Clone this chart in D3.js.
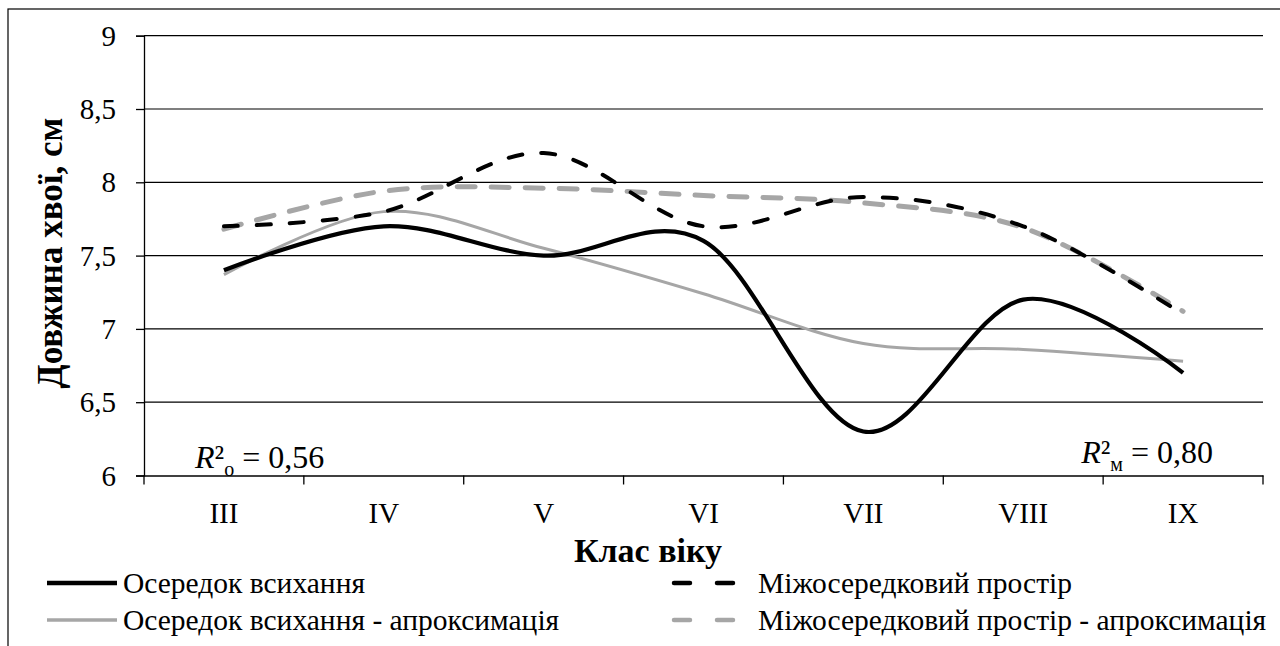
<!DOCTYPE html>
<html><head><meta charset="utf-8">
<script src="https://cdn.jsdelivr.net/npm/d3@7"></script>
<style>
html,body{margin:0;padding:0;background:#fff;}
svg{display:block;}
</style></head>
<body><svg id="c" width="1280" height="646"></svg>
<script>
const categories = ["III","IV","V","VI","VII","VIII","IX"];
const seriesFocus = [7.4, 7.7, 7.5, 7.6, 6.3, 7.2, 6.7];
const seriesInter = [7.7, 7.8, 8.2, 7.7, 7.9, 7.7, 7.1];
const seriesFocusApprox = [7.37, 7.8, 7.55, 7.24, 6.9, 6.86, 6.78];
const seriesInterApprox = [7.68, 7.94, 7.96, 7.91, 7.86, 7.69, 7.12];
const yTicks = [6, 6.5, 7, 7.5, 8, 8.5, 9];
const legendNames = ["Осередок всихання","Міжосередковий простір","Осередок всихання - апроксимація","Міжосередковий простір - апроксимація"];
const yTitle = "Довжина хвої, см";
const xTitle = "Клас віку";

const FONT = "Liberation Serif";
const svg = d3.select("#c");
const L = 144, R = 1263, T = 35.7, B = 475.5;
const x = d3.scaleBand().domain(categories).range([L, R]).padding(0);
const cx = c => x(c) + x.bandwidth()/2;
const y = d3.scaleLinear().domain([6, 9]).range([B, T]);

// frame
svg.append("rect").attr("x",8).attr("y",9).attr("width",1290).attr("height",660)
  .attr("fill","none").attr("stroke","#000").attr("stroke-width",1.2);

// gridlines
svg.append("g").selectAll("line").data(yTicks.filter(v=>v>6)).join("line")
  .attr("x1",L).attr("x2",R).attr("y1",d=>y(d)).attr("y2",d=>y(d))
  .attr("stroke","#000").attr("stroke-width",1.2);

// y axis
const yAx = svg.append("g").attr("transform",`translate(${L},0)`)
  .call(d3.axisLeft(y).tickValues(yTicks).tickSize(8).tickPadding(20)
    .tickFormat(d => String(d).replace(".", ",")));
yAx.attr("font-family", FONT).attr("font-size", 29);
yAx.select(".domain").attr("stroke","#000").attr("stroke-width",1.3);
yAx.selectAll(".tick line").attr("stroke","#000").attr("stroke-width",1.3);
yAx.selectAll("text").attr("fill","#000").attr("dy","0.33em");

// x axis
const xAx = svg.append("g").attr("transform",`translate(0,${B})`)
  .call(d3.axisBottom(x).tickSize(0).tickPadding(27));
xAx.attr("font-family", FONT).attr("font-size", 29);
xAx.selectAll("text").attr("fill","#000");
xAx.select(".domain").attr("stroke","#000").attr("stroke-width",1.3);
const edges = categories.map(c => x(c)).concat([x(categories[categories.length-1]) + x.bandwidth()]);
svg.append("g").selectAll("line").data(edges).join("line")
  .attr("x1",d=>d).attr("x2",d=>d).attr("y1",B).attr("y2",B+9)
  .attr("stroke","#000").attr("stroke-width",1.3);

// lines
const line = d3.line().x((d,i)=>cx(categories[i])).y(d=>y(d)).curve(d3.curveCardinal.tension(0));
const styles = [
  {data: seriesFocusApprox, color:"#a6a6a6", w:3, dash:null},
  {data: seriesInterApprox, color:"#a6a6a6", w:5, dash:"18 16"},
  {data: seriesInter, color:"#000", w:4, dash:"14 19"},
  {data: seriesFocus, color:"#000", w:4.2, dash:null}
];
svg.append("g").selectAll("path").data(styles).join("path")
  .attr("d", s => line(s.data)).attr("fill","none")
  .attr("stroke", s=>s.color).attr("stroke-width", s=>s.w)
  .attr("stroke-dasharray", s=>s.dash).attr("stroke-linecap", s=>s.dash?"round":"butt");

// R2 labels
function r2(xp, yp, sub, val, anchorEnd){
  const t = svg.append("text").attr("x",xp).attr("y",yp).attr("font-family",FONT).attr("font-size",32).attr("fill","#000");
  t.append("tspan").text("R").attr("font-style","italic");
  t.append("tspan").text("²");
  t.append("tspan").text(sub).attr("dy",8).attr("font-size",20);
  t.append("tspan").text(" = " + val).attr("dy",-8);
  if(anchorEnd) t.attr("text-anchor","end");
}
r2(195, 468, "о", "0,56", false);
r2(1213, 463, "м", "0,80", true);

// titles
svg.append("text").attr("transform","translate(62,253) rotate(-90)").attr("text-anchor","middle")
  .attr("font-family",FONT).attr("font-size",35).attr("font-weight","bold").attr("fill","#000").text(yTitle);
svg.append("text").attr("x",648).attr("y",562).attr("text-anchor","middle")
  .attr("font-family",FONT).attr("font-size",34).attr("font-weight","bold").attr("fill","#000").text(xTitle);

// legend
const leg = [
  {name: legendNames[0], x1:47, x2:117, tx:123, yy:583, color:"#000", w:4.5, dash:null},
  {name: legendNames[2], x1:47, x2:117, tx:123, yy:620, color:"#a6a6a6", w:3.5, dash:null},
  {name: legendNames[1], x1:674, x2:733, tx:758, yy:583, color:"#000", w:4.5, dash:"16 27"},
  {name: legendNames[3], x1:674, x2:733, tx:758, yy:620, color:"#a6a6a6", w:4.5, dash:"16 27"}
];
const lg = svg.append("g").selectAll("g").data(leg).join("g");
lg.append("line").attr("x1",d=>d.x1).attr("x2",d=>d.x2).attr("y1",d=>d.yy).attr("y2",d=>d.yy)
  .attr("stroke",d=>d.color).attr("stroke-width",d=>d.w).attr("stroke-dasharray",d=>d.dash)
  .attr("stroke-linecap",d=>d.dash?"round":"butt");
lg.append("text").attr("x",d=>d.tx).attr("y",d=>d.yy+10).attr("font-family",FONT).attr("font-size",29.5)
  .attr("fill","#000").text(d=>d.name);
</script></body></html>
